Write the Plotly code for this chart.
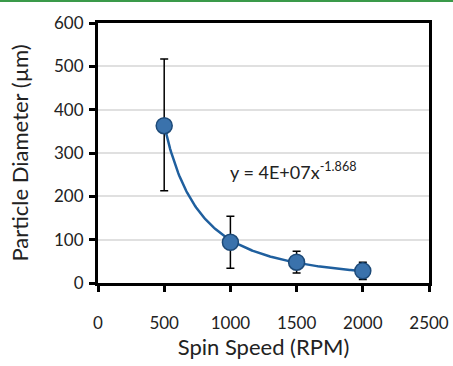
import numpy as np
import plotly.graph_objects as go

spin_speed = [500, 1000, 1500, 2000]
diameter = [363, 94, 48, 28]
err_plus = [154, 60, 25, 20]
err_minus = [150, 60, 25, 20]
fit_a = 4e7
fit_b = -1.868
x_ticks = [0, 500, 1000, 1500, 2000, 2500]
y_ticks = [0, 100, 200, 300, 400, 500, 600]

xf = np.linspace(spin_speed[0], spin_speed[-1], 200)
yf = fit_a * xf ** fit_b

FONT = "Lato, 'Open Sans', sans-serif"

fig = go.Figure()
fig.add_trace(go.Scatter(x=xf, y=yf, mode="lines",
                         line=dict(color="#1f5f9e", width=2.5),
                         hoverinfo="skip", showlegend=False))
fig.add_trace(go.Scatter(
    x=spin_speed, y=diameter, mode="markers",
    marker=dict(size=16, color="#3a72ac", line=dict(color="#1d4a78", width=1.5)),
    error_y=dict(type="data", symmetric=False, array=err_plus, arrayminus=err_minus,
                 color="black", thickness=1.5, width=4),
    showlegend=False))

fig.add_annotation(x=1480, y=258, xref="x", yref="y",
                   text="y = 4E+07x<sup>-1.868</sup>", showarrow=False,
                   font=dict(family=FONT, size=18, color="#222"))

# green line at top of the page
fig.add_shape(type="line", xref="paper", yref="paper",
              x0=-1, x1=2, y0=1 + 22/260, y1=1 + 22/260,
              line=dict(color="#3a9a4a", width=2))

fig.update_layout(
    width=453, height=366,
    margin=dict(l=98, r=24, t=23, b=83, autoexpand=False),
    paper_bgcolor="white", plot_bgcolor="white",
    font=dict(family=FONT, size=17, color="#222"),
    xaxis=dict(range=[0, 2500], tickvals=x_ticks, showgrid=False, automargin=False,
               showline=True, linecolor="black", linewidth=3, mirror=True,
               ticks="outside", ticklen=6, tickwidth=2.5, tickcolor="black",
               ticklabelstandoff=17,
               title=dict(text="Spin Speed (RPM)", font=dict(size=22), standoff=8),
               zeroline=False),
    yaxis=dict(range=[0, 600], tickvals=y_ticks, showgrid=True, automargin=False,
               gridcolor="#e0e0e0", gridwidth=1.5,
               showline=True, linecolor="black", linewidth=3, mirror=True,
               ticks="outside", ticklen=6, tickwidth=2.5, tickcolor="black",
               ticklabelstandoff=2,
               title=dict(text="Particle Diameter (µm)", font=dict(size=22), standoff=20),
               zeroline=False),
)

fig.write_html("out.html", config={"displayModeBar": False},
               post_script="document.body.style.margin='0';document.body.style.overflow='hidden';")
